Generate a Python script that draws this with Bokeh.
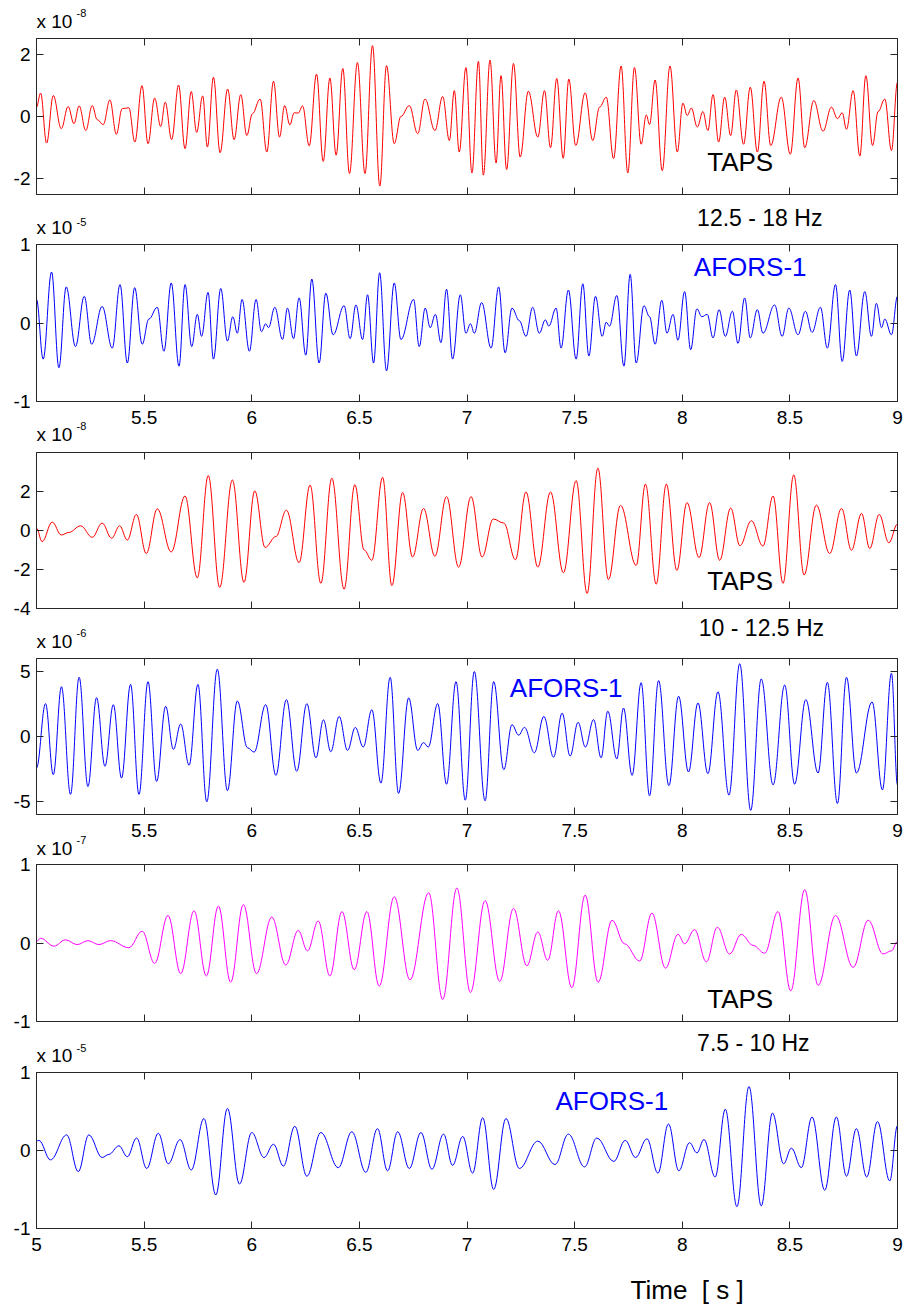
import numpy as np
from bokeh.plotting import figure
from bokeh.models import (Label, LinearAxis, FixedTicker, ColumnDataSource,
                          Range1d, CustomJSTickFormatter)
from bokeh.layouts import column
from bokeh.embed import file_html
from bokeh.resources import INLINE

FONT = "Liberation Sans"
FRAME = "#262626"
PAGE_H = 1309

# ---------------- tick labels ----------------
x_ticks_full = [5, 5.5, 6, 6.5, 7, 7.5, 8, 8.5, 9]
x_labels_full = ["5", "5.5", "6", "6.5", "7", "7.5", "8", "8.5", "9"]
x_ticks_inner = [5.5, 6, 6.5, 7, 7.5, 8, 8.5, 9]
x_labels_inner = ["5.5", "6", "6.5", "7", "7.5", "8", "8.5", "9"]

band_labels = ["12.5 - 18 Hz", "10 - 12.5 Hz", "7.5 - 10 Hz"]
exponents = ["-8", "-5", "-8", "-6", "-7", "-5"]
station_labels = ["TAPS", "AFORS-1", "TAPS", "AFORS-1", "TAPS", "AFORS-1"]
x_title = "Time\u00a0 [ s ]"

# ---------------- data (time [s], amplitude in units of the panel exponent) ----------------
# Panel 1: TAPS, 12.5-18 Hz, x 1e-8
taps_hi = [(5.000,0.30),(5.019,0.75),(5.047,-0.85),(5.078,0.67),(5.115,-0.39),(5.147,0.32),(5.174,-0.23),(5.198,0.34),(5.229,-0.45),(5.259,0.35),(5.282,-0.10),(5.310,-0.26),(5.341,0.53),(5.371,-0.57),(5.398,0.25),(5.429,0.28),(5.457,-0.82),(5.490,0.99),(5.518,-0.87),(5.549,0.59),(5.577,-0.32),(5.598,0.46),(5.628,-0.74),(5.660,1.01),(5.690,-1.03),(5.719,0.80),(5.744,-0.51),(5.772,0.66),(5.794,-0.98),(5.822,1.26),(5.853,-1.16),(5.888,0.88),(5.918,-0.74),(5.949,0.70),(5.977,-0.61),(6.003,0.09),(6.039,0.56),(6.070,-1.14),(6.101,1.13),(6.129,-0.66),(6.153,0.35),(6.177,-0.27),(6.197,0.12),(6.216,0.11),(6.236,0.34),(6.267,-0.94),(6.301,1.36),(6.332,-1.44),(6.363,1.23),(6.392,-1.24),(6.423,1.54),(6.454,-1.83),(6.491,1.73),(6.526,-1.83),(6.561,2.27),(6.595,-2.23),(6.626,1.63),(6.662,-0.87),(6.693,0.00),(6.732,0.35),(6.771,-0.55),(6.805,0.56),(6.851,-0.45),(6.887,0.64),(6.918,-0.77),(6.941,0.83),(6.964,-1.14),(6.995,1.57),(7.023,-1.81),(7.053,1.77),(7.076,-1.88),(7.107,1.81),(7.135,-1.49),(7.158,1.31),(7.184,-1.70),(7.216,1.70),(7.247,-1.30),(7.285,0.81),(7.329,-0.66),(7.360,0.83),(7.388,-1.00),(7.417,1.22),(7.447,-1.34),(7.473,1.20),(7.505,-0.93),(7.549,0.76),(7.584,-0.77),(7.616,0.30),(7.647,0.62),(7.681,-1.35),(7.716,1.62),(7.747,-1.81),(7.778,1.57),(7.809,-0.89),(7.833,0.05),(7.848,-0.26),(7.874,1.17),(7.907,-1.74),(7.943,1.62),(7.977,-1.14),(8.003,0.43),(8.023,0.03),(8.042,0.27),(8.070,-0.34),(8.096,0.16),(8.119,-0.45),(8.143,0.70),(8.169,-0.82),(8.197,0.62),(8.225,-0.61),(8.251,0.85),(8.285,-0.89),(8.316,0.94),(8.349,-1.14),(8.380,1.13),(8.411,-0.93),(8.460,0.62),(8.502,-1.21),(8.538,1.23),(8.569,-1.00),(8.611,0.51),(8.654,-0.47),(8.693,0.30),(8.721,-0.07),(8.743,0.12),(8.763,-0.41),(8.794,0.83),(8.825,-1.27),(8.853,1.31),(8.884,-0.93),(8.910,0.16),(8.941,0.56),(8.972,-1.09),(9.000,1.10)]

# Panel 2: AFORS-1, 12.5-18 Hz, x 1e-5
afors_hi = [(5.000,0.30),(5.031,-0.46),(5.070,0.65),(5.104,-0.57),(5.138,0.46),(5.181,-0.30),(5.222,0.34),(5.256,-0.27),(5.305,0.21),(5.352,-0.32),(5.388,0.49),(5.422,-0.51),(5.456,0.45),(5.491,-0.27),(5.522,0.05),(5.561,0.20),(5.592,-0.36),(5.626,0.51),(5.662,-0.55),(5.690,0.49),(5.721,-0.30),(5.747,0.11),(5.767,-0.17),(5.797,0.39),(5.822,-0.46),(5.856,0.44),(5.887,-0.23),(5.912,0.08),(5.933,-0.13),(5.955,0.30),(5.989,-0.36),(6.020,0.30),(6.045,-0.11),(6.065,-0.01),(6.078,-0.06),(6.107,0.20),(6.143,-0.21),(6.166,0.19),(6.194,-0.20),(6.220,0.32),(6.251,-0.41),(6.279,0.56),(6.313,-0.51),(6.344,0.38),(6.378,-0.15),(6.429,0.22),(6.457,-0.20),(6.484,0.23),(6.515,-0.21),(6.538,0.36),(6.566,-0.51),(6.594,0.64),(6.626,-0.61),(6.662,0.51),(6.693,-0.21),(6.752,0.30),(6.778,-0.30),(6.806,0.19),(6.829,-0.06),(6.853,0.11),(6.879,-0.25),(6.905,0.43),(6.933,-0.46),(6.969,0.36),(6.995,-0.13),(7.016,-0.01),(7.034,-0.13),(7.068,0.26),(7.112,-0.32),(7.147,0.46),(7.177,-0.38),(7.209,0.19),(7.243,0.03),(7.274,-0.17),(7.305,0.20),(7.336,-0.13),(7.364,0.04),(7.380,-0.04),(7.414,0.19),(7.437,-0.32),(7.471,0.42),(7.507,-0.46),(7.538,0.50),(7.566,-0.42),(7.597,0.34),(7.628,-0.17),(7.647,0.01),(7.662,-0.04),(7.696,0.35),(7.729,-0.55),(7.758,0.62),(7.786,-0.51),(7.822,0.22),(7.848,0.08),(7.874,-0.27),(7.905,0.29),(7.929,-0.13),(7.957,0.11),(7.980,-0.22),(8.011,0.40),(8.039,-0.34),(8.068,0.18),(8.091,0.08),(8.116,0.11),(8.143,-0.19),(8.171,0.17),(8.200,-0.17),(8.233,0.15),(8.259,-0.26),(8.290,0.32),(8.316,-0.19),(8.349,0.17),(8.375,-0.13),(8.429,0.23),(8.464,-0.17),(8.495,0.19),(8.538,-0.15),(8.572,0.15),(8.603,-0.12),(8.642,0.20),(8.674,-0.32),(8.712,0.49),(8.743,-0.49),(8.778,0.42),(8.809,-0.42),(8.848,0.40),(8.879,-0.17),(8.902,0.25),(8.926,-0.06),(8.941,0.05),(8.972,-0.15),(9.000,0.34)]

# Panel 3: TAPS, 10-12.5 Hz, x 1e-8
taps_mid = [(5.000,0.12),(5.026,-0.57),(5.073,0.43),(5.115,-0.23),(5.150,-0.10),(5.205,0.24),(5.259,-0.35),(5.305,0.38),(5.349,-0.40),(5.386,0.24),(5.422,-0.49),(5.464,0.82),(5.510,-1.18),(5.561,1.11),(5.626,-1.10),(5.690,1.77),(5.747,-2.43),(5.798,2.82),(5.851,-2.92),(5.910,2.59),(5.964,-2.66),(6.014,2.03),(6.062,-0.87),(6.112,-0.31),(6.161,1.04),(6.220,-1.65),(6.271,2.33),(6.321,-2.71),(6.372,2.68),(6.429,-3.01),(6.479,2.35),(6.522,-1.00),(6.558,-1.53),(6.608,2.73),(6.651,-2.83),(6.701,1.95),(6.747,-1.36),(6.798,1.13),(6.851,-1.32),(6.905,1.74),(6.961,-1.88),(7.019,1.74),(7.070,-1.36),(7.122,0.59),(7.171,0.38),(7.225,-1.50),(7.274,1.98),(7.329,-1.88),(7.388,1.98),(7.448,-2.17),(7.507,2.56),(7.558,-3.23),(7.608,3.20),(7.657,-2.52),(7.713,1.29),(7.786,-1.79),(7.829,2.38),(7.879,-2.75),(7.926,2.38),(7.975,-2.05),(8.022,1.43),(8.078,-1.39),(8.127,1.43),(8.174,-1.53),(8.225,1.15),(8.268,-0.78),(8.321,0.50),(8.375,-0.80),(8.422,1.77),(8.468,-2.71),(8.518,2.85),(8.566,-2.28),(8.623,1.30),(8.685,-1.18),(8.740,1.13),(8.786,-1.01),(8.833,0.87),(8.871,-0.92),(8.915,0.82),(8.960,-0.63),(9.000,0.33)]

# Panel 4: AFORS-1, 10-12.5 Hz, x 1e-6
afors_mid = [(5.000,-2.42),(5.042,2.53),(5.078,-2.94),(5.116,3.83),(5.158,-4.45),(5.198,4.56),(5.239,-3.85),(5.279,2.99),(5.318,-2.29),(5.357,2.45),(5.395,-3.20),(5.437,4.01),(5.476,-4.45),(5.518,4.22),(5.558,-3.46),(5.600,2.32),(5.636,-0.99),(5.670,0.96),(5.709,-2.21),(5.750,4.01),(5.791,-5.03),(5.840,5.18),(5.887,-4.17),(5.933,2.73),(5.980,-0.86),(6.011,-1.20),(6.065,2.45),(6.112,-2.99),(6.161,2.84),(6.209,-2.68),(6.256,2.53),(6.298,-1.64),(6.333,1.28),(6.367,-1.17),(6.406,1.54),(6.445,-1.07),(6.481,0.70),(6.518,-0.81),(6.558,2.06),(6.600,-3.59),(6.643,4.56),(6.682,-4.38),(6.729,2.97),(6.771,-1.07),(6.798,-0.47),(6.820,-0.81),(6.864,2.53),(6.905,-3.67),(6.949,4.22),(6.992,-4.90),(7.034,5.00),(7.084,-4.95),(7.124,4.22),(7.171,-2.55),(7.209,0.91),(7.240,0.10),(7.267,0.70),(7.313,-1.25),(7.357,1.54),(7.402,-1.59),(7.442,1.80),(7.479,-1.51),(7.516,1.09),(7.550,-0.81),(7.588,1.30),(7.623,-1.64),(7.654,1.95),(7.696,-1.72),(7.727,2.19),(7.767,-2.99),(7.809,4.14),(7.848,-4.56),(7.890,4.30),(7.938,-3.78),(7.983,3.10),(8.029,-2.73),(8.073,2.58),(8.119,-2.86),(8.166,3.44),(8.217,-4.51),(8.267,5.60),(8.318,-5.68),(8.367,4.43),(8.422,-3.72),(8.476,3.96),(8.522,-3.67),(8.574,2.84),(8.631,-2.81),(8.674,4.17),(8.721,-5.16),(8.763,4.56),(8.809,-2.81),(8.882,2.66),(8.930,-4.11),(8.972,4.87),(9.000,-3.72)]

# Panel 5: TAPS, 7.5-10 Hz, x 1e-7
taps_lo = [(5.000,0.02),(5.019,0.06),(5.081,-0.04),(5.135,0.04),(5.189,-0.02),(5.239,0.03),(5.290,-0.02),(5.344,0.03),(5.429,-0.06),(5.491,0.15),(5.549,-0.26),(5.611,0.35),(5.670,-0.39),(5.732,0.41),(5.789,-0.42),(5.845,0.47),(5.902,-0.50),(5.961,0.49),(6.022,-0.39),(6.093,0.33),(6.158,-0.28),(6.216,0.16),(6.259,-0.10),(6.309,0.28),(6.363,-0.42),(6.419,0.40),(6.476,-0.34),(6.535,0.40),(6.592,-0.55),(6.662,0.59),(6.735,-0.47),(6.822,0.64),(6.887,-0.72),(6.953,0.70),(7.016,-0.63),(7.084,0.54),(7.152,-0.49),(7.216,0.44),(7.278,-0.29),(7.329,0.14),(7.375,-0.22),(7.425,0.41),(7.487,-0.57),(7.549,0.61),(7.609,-0.50),(7.674,0.29),(7.732,-0.01),(7.802,-0.23),(7.859,0.38),(7.922,-0.32),(7.980,0.11),(8.011,-0.01),(8.057,0.17),(8.112,-0.24),(8.163,0.20),(8.220,-0.14),(8.274,0.11),(8.329,-0.03),(8.383,-0.13),(8.445,0.40),(8.504,-0.61),(8.569,0.68),(8.631,-0.54),(8.712,0.35),(8.794,-0.31),(8.864,0.29),(8.933,-0.14),(8.972,-0.10),(9.000,0.02)]

# Panel 6: AFORS-1, 7.5-10 Hz, x 1e-5
afors_lo = [(5.000,0.12),(5.011,0.13),(5.065,-0.12),(5.140,0.20),(5.194,-0.27),(5.243,0.20),(5.305,-0.09),(5.336,-0.05),(5.383,0.06),(5.422,-0.08),(5.465,0.16),(5.512,-0.23),(5.566,0.22),(5.612,-0.17),(5.667,0.14),(5.719,-0.25),(5.778,0.41),(5.833,-0.57),(5.887,0.54),(5.943,-0.43),(6.000,0.23),(6.057,-0.09),(6.101,0.08),(6.147,-0.20),(6.200,0.31),(6.256,-0.33),(6.321,0.23),(6.402,-0.22),(6.465,0.24),(6.530,-0.28),(6.584,0.28),(6.631,-0.26),(6.678,0.24),(6.732,-0.23),(6.786,0.23),(6.837,-0.24),(6.891,0.21),(6.933,-0.19),(6.980,0.18),(7.026,-0.29),(7.073,0.42),(7.124,-0.50),(7.181,0.41),(7.243,-0.23),(7.329,0.12),(7.409,-0.18),(7.471,0.21),(7.546,-0.21),(7.603,0.16),(7.682,-0.14),(7.735,0.13),(7.783,-0.09),(7.836,0.15),(7.887,-0.29),(7.936,0.34),(7.984,-0.26),(8.034,0.10),(8.068,-0.03),(8.101,0.14),(8.153,-0.34),(8.200,0.53),(8.254,-0.72),(8.310,0.82),(8.367,-0.71),(8.419,0.48),(8.471,-0.17),(8.507,0.03),(8.553,-0.22),(8.603,0.43),(8.662,-0.51),(8.716,0.43),(8.763,-0.33),(8.809,0.28),(8.857,-0.34),(8.907,0.37),(8.964,-0.39),(9.000,0.32)]

FMT_CODE = "const i = tv.findIndex(x => Math.abs(x - tick) < 1e-9); return i >= 0 ? tl[i] : '';"


def style_axis(ax, ticks, labels, show, standoff):
    ax.ticker = FixedTicker(ticks=ticks, minor_ticks=[])
    ax.major_tick_in = 7
    ax.major_tick_out = 0
    ax.minor_tick_in = 0
    ax.minor_tick_out = 0
    ax.axis_line_color = FRAME
    ax.major_tick_line_color = FRAME
    if show:
        ax.formatter = CustomJSTickFormatter(args=dict(tv=ticks, tl=labels), code=FMT_CODE)
        ax.major_label_text_font = FONT
        ax.major_label_text_font_size = "19px"
        ax.major_label_text_color = "black"
        ax.major_label_standoff = standoff
    else:
        ax.formatter = CustomJSTickFormatter(code="return '';")
        ax.major_label_text_font_size = "0px"
        ax.major_label_standoff = 0


def bezier_source(pairs):
    t = np.array([a for a, _ in pairs])
    v = np.array([b for _, b in pairs])
    dt = np.diff(t)
    k = 0.38
    return ColumnDataSource(dict(
        x0=t[:-1], y0=v[:-1], x1=t[1:], y1=v[1:],
        cx0=t[:-1] + k * dt, cy0=v[:-1], cx1=t[1:] - k * dt, cy1=v[1:]))


def panel(pairs, color, ylim, yticks, xticks, xlabels, show_x, top, fh, bottom):
    p = figure(frame_width=861, frame_height=fh,
               x_range=Range1d(5, 9), y_range=Range1d(*ylim),
               output_backend="svg", toolbar_location=None,
               min_border_left=36, min_border_right=9,
               min_border_top=top, min_border_bottom=bottom,
               background_fill_color="white", border_fill_color=None,
               outline_line_color=FRAME, outline_line_width=1)
    p.grid.visible = False
    style_axis(p.xaxis[0], xticks, xlabels, show_x, 9)
    style_axis(p.yaxis[0], yticks, [str(y) for y in yticks], True, 6)
    top_ax = LinearAxis()
    right_ax = LinearAxis()
    style_axis(top_ax, xticks, xlabels, False, 0)
    style_axis(right_ax, yticks, [], False, 0)
    p.add_layout(top_ax, "above")
    p.add_layout(right_ax, "right")
    p.bezier(x0="x0", y0="y0", x1="x1", y1="y1", cx0="cx0", cy0="cy0",
             cx1="cx1", cy1="cy1", source=bezier_source(pairs),
             line_color=color, line_width=1)
    return p


RED = "#FF0000"
BLUE = "#0000FF"
MAGENTA = "#FF00FF"

p1 = panel(taps_hi, RED, (-2.5, 2.5), [-2, 0, 2], x_ticks_inner, x_labels_inner, False, 38, 156, 11)
p2 = panel(afors_hi, BLUE, (-1, 1), [-1, 0, 1], x_ticks_inner, x_labels_inner, True, 39, 157, 31)
p3 = panel(taps_mid, RED, (-4, 4), [-4, -2, 0, 2], x_ticks_inner, x_labels_inner, False, 20, 156, 12)
p4 = panel(afors_mid, BLUE, (-6, 6), [-5, 0, 5], x_ticks_inner, x_labels_inner, True, 38, 156, 31)
p5 = panel(taps_lo, MAGENTA, (-1, 1), [-1, 0, 1], x_ticks_inner, x_labels_inner, False, 19, 157, 12)
p6 = panel(afors_lo, BLUE, (-1, 1), [-1, 0, 1], x_ticks_full, x_labels_full, True, 39, 156, 81)

# ---- transparent text layer over the whole page (texts outside the axes boxes) ----
ov = figure(frame_width=861, frame_height=PAGE_H, x_range=Range1d(5, 9),
            y_range=Range1d(0, PAGE_H), x_axis_type=None, y_axis_type=None,
            toolbar_location=None, output_backend="svg",
            min_border_left=36, min_border_right=9, min_border_top=0, min_border_bottom=0,
            background_fill_color=None, border_fill_color=None, outline_line_color=None,
            margin=(-PAGE_H, 0, 0, 0))
ov.grid.visible = False


def put(x, baseline_row, text, size_px, color="black", align="left"):
    # place the text so that its glyph baseline sits at the given page row
    centre_row = baseline_row - 0.438 * size_px
    ov.add_layout(Label(x=x, y=PAGE_H - centre_row, x_units="data", y_units="screen",
                        text=text, text_font=FONT, text_font_size=f"{size_px}px",
                        text_color=color, text_baseline="middle", text_align=align))


# exponent labels: (baseline of "x 10", baseline of exponent)
exp_rows = [(29, 17), (235, 226), (442, 430), (649, 637), (856, 844), (1063, 1052)]
for (b1, b2), e in zip(exp_rows, exponents):
    put(5.0, b1, "x 10", 19)
    put(5.186, b2, e, 11)

# frequency band labels
put(8.069, 228, band_labels[0], 23)
put(8.077, 638, band_labels[1], 23)
put(8.069, 1053, band_labels[2], 23)

# station labels
put(8.116, 172.5, station_labels[0], 26)
put(8.054, 277.5, station_labels[1], 26, BLUE)
put(8.116, 591.5, station_labels[2], 26)
put(7.199, 699, station_labels[3], 26, BLUE)
put(8.116, 1010, station_labels[4], 26)
put(7.411, 1111.5, station_labels[5], 26, BLUE)

# x-axis title
put(7.760, 1301, x_title, 26)

layout = column(p1, p2, p3, p4, p5, p6, ov, spacing=0)

with open("out.html", "w") as f:
    f.write(file_html(layout, INLINE))
